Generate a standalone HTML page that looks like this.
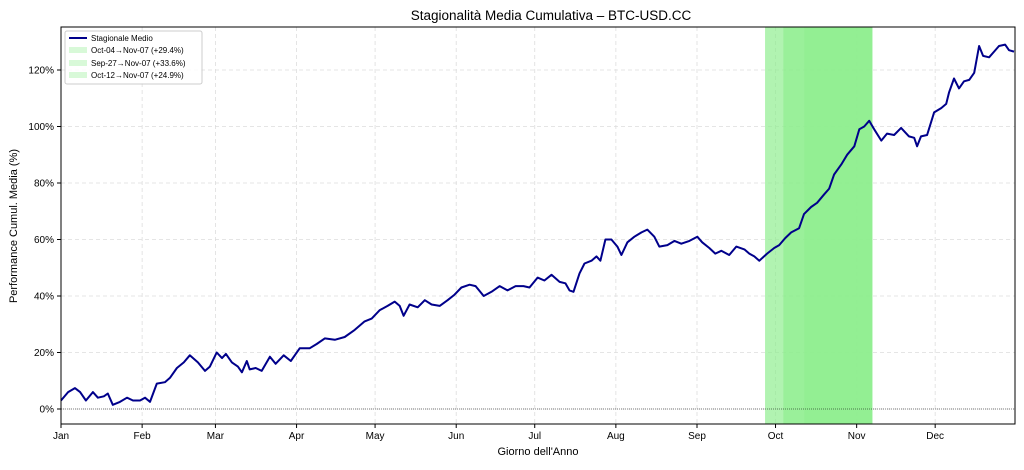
<!DOCTYPE html>
<html><head><meta charset="utf-8"><style>
body{margin:0;background:#fff;font-family:"Liberation Sans",sans-serif;}
svg text{font-family:"Liberation Sans",sans-serif;}
</style></head><body>
<svg id="chart" width="1024" height="465" xmlns="http://www.w3.org/2000/svg">
<rect width="1024" height="465" fill="#fff"/>
<text x="551" y="20" font-size="13.5" text-anchor="middle" fill="#000">Stagionalità Media Cumulativa – BTC-USD.CC</text>
<g id="grid"></g><g id="spans"></g><g id="lines"></g><g id="axes"></g>
<text x="538" y="455" font-size="11" text-anchor="middle">Giorno dell'Anno</text>
<text transform="translate(17,226) rotate(-90)" font-size="11" text-anchor="middle">Performance Cumul. Media (%)</text>
<g>
<rect x="65" y="31" width="137" height="53" fill="#fff" fill-opacity="0.85" stroke="#ccc" rx="2"/>
<line x1="69" y1="38" x2="87" y2="38" stroke="#00008b" stroke-width="2"/>
<text x="91" y="41" font-size="8">Stagionale Medio</text>
<rect x="69" y="47" width="18" height="6" fill="#90ee90" fill-opacity="0.35"/>
<text x="91" y="53" font-size="8">Oct-04→Nov-07 (+29.4%)</text>
<rect x="69" y="60" width="18" height="6" fill="#90ee90" fill-opacity="0.35"/>
<text x="91" y="66" font-size="8">Sep-27→Nov-07 (+33.6%)</text>
<rect x="69" y="72" width="18" height="6" fill="#90ee90" fill-opacity="0.35"/>
<text x="91" y="78" font-size="8">Oct-12→Nov-07 (+24.9%)</text>
</g>
</svg>
<script>
const days=[0,2.7,5.3,7.3,9.5,12.2,14.1,16.4,17.9,19.8,22.5,25.2,27.5,30.2,32.1,34,36.6,39.7,41.6,44.3,46.9,49.2,52.3,55,56.9,59.5,61.5,63,65.3,67.6,69.1,71,72.1,74.4,76.7,79.8,82,85.1,87.8,91.2,95,97.7,100.8,104.6,108.4,112.2,116,118.7,121.8,124.8,127.5,129.4,130.9,133.2,136.3,139,141.6,144.7,147.7,150.4,153,156.1,158.4,161.5,164.5,167.6,170.6,173.7,176.7,179,182.1,184.7,187.4,190.5,192.7,194.3,195.8,198.1,200,202.7,204.6,206.1,208,210.3,212.6,214.1,216.4,219.1,221.8,224,226.7,228.6,231.7,234.4,237,240.1,243.1,245,247.7,250,252.3,255.3,258,261.1,263,264.9,266.8,269.8,272.5,274.4,276.7,279,282,283.9,286.6,288.9,291.6,293.5,295.4,298.1,300.4,303.1,305,306.9,308.8,310.7,313.4,315.6,318.3,321,324,326,327.1,328.6,330.9,333.6,336.3,338.2,339.3,341.2,343.1,345,347,348.9,350.8,352.3,354.6,356.5,358.4,360.7,362.2,364.1];
const perf=[3,6,7.4,6,3,6,4,4.5,5.5,1.5,2.5,4,3,3,4,2.5,9,9.5,11,14.5,16.5,19,16.5,13.5,15,20,18,19.5,16.5,15,13,17,14,14.5,13.5,18.5,16,19,17,21.5,21.5,23,25,24.5,25.5,28,31,32,35,36.5,38,36.5,33,37,36,38.5,37,36.5,38.5,40.5,43,44,43.5,40,41.5,43.5,42,43.5,43.5,43,46.5,45.5,47.5,45,44.5,42,41.5,48,51.5,52.5,54,52.5,60,60,57.5,54.5,59,61,62.5,63.5,61,57.5,58,59.5,58.5,59.5,61,59,57,55,56,54.5,57.5,56.5,55,54,52.5,55,57,58,60.5,62.5,64,69,71.5,73,76,78,83,86.5,90,93,99,100,102,99,95,97.5,97,99.5,96.5,96,93,96.5,97,105,106.5,108,112,117,113.5,116,116.5,119,128.5,125,124.5,126.5,128.5,129,127,126.5];
const spanStart=[276,269,284];
const spanEnd=[310,310,310];
const monthDays=[0,31,59,90,120,151,181,212,243,273,304,334];
const monthLabels=['Jan','Feb','Mar','Apr','May','Jun','Jul','Aug','Sep','Oct','Nov','Dec'];
const yTicks=[0,20,40,60,80,100,120];
const L=61,R=1015,T=27,B=424;
const xs=d=>L+d*(R-L)/364.5;
const ys=v=>409-v*2.825;
const NS='http://www.w3.org/2000/svg';
function mk(tag,attrs,parent,txt){const e=document.createElementNS(NS,tag);for(const k in attrs)e.setAttribute(k,attrs[k]);if(txt!==undefined)e.textContent=txt;document.getElementById(parent).appendChild(e);return e;}
yTicks.forEach(v=>{const e=mk('line',{x1:L,x2:R,y1:ys(v),y2:ys(v),stroke:'#ddd','stroke-dasharray':'4,3','stroke-width':0.8},'grid');

});
monthDays.forEach(d=>{const e=mk('line',{x1:xs(d),x2:xs(d),y1:T,y2:B,stroke:'#ddd','stroke-dasharray':'4,3','stroke-width':0.8},'grid');

});
spanStart.forEach((s,i)=>{const e=mk('rect',{x:xs(s),y:T,width:xs(spanEnd[i])-xs(s),height:B-T,fill:'#90ee90','fill-opacity':0.7},'spans');

});
const z=mk('line',{x1:L,x2:R,y1:ys(0),y2:ys(0),stroke:'#000','stroke-width':0.6,'stroke-dasharray':'1,1'},'lines');


const p=mk('polyline',{points:days.map((d,i)=>xs(d).toFixed(1)+','+ys(perf[i]).toFixed(1)).join(' '),fill:'none',stroke:'#00008b','stroke-width':2,'stroke-linejoin':'round'},'lines');


const f=mk('rect',{x:L,y:T,width:R-L,height:B-T,fill:'none',stroke:'#000','stroke-width':1},'axes');


yTicks.forEach(v=>{mk('line',{x1:L-4,x2:L,y1:ys(v),y2:ys(v),stroke:'#000'},'axes');
const t=mk('text',{x:L-7,y:ys(v)+3.5,'font-size':10,'text-anchor':'end'},'axes',v+'%');

});
monthDays.forEach((d,i)=>{mk('line',{x1:xs(d),x2:xs(d),y1:B,y2:B+4,stroke:'#000'},'axes');
const t=mk('text',{x:xs(d),y:B+15,'font-size':10,'text-anchor':'middle'},'axes',monthLabels[i]);

});
</script>
</body></html>
